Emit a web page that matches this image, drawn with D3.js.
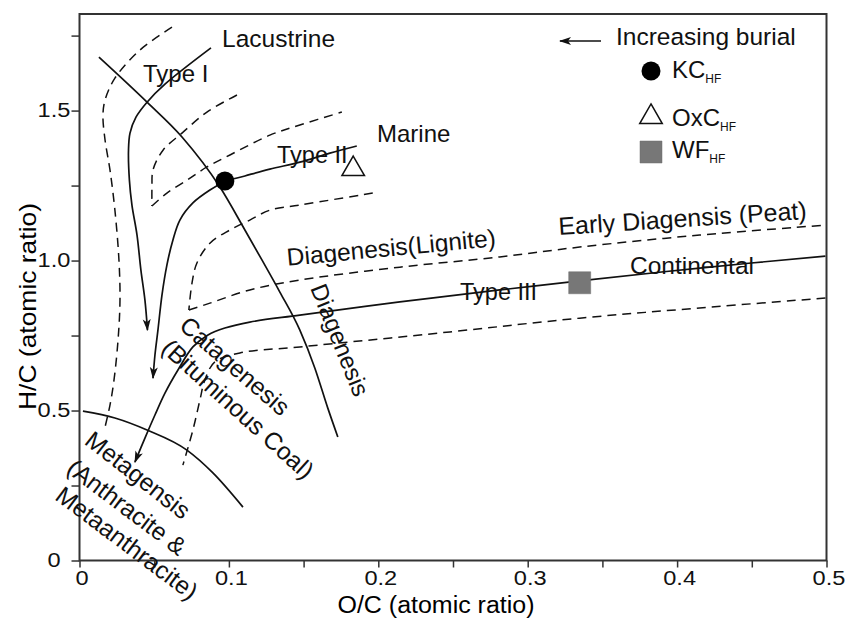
<!DOCTYPE html>
<html>
<head>
<meta charset="utf-8">
<script src="https://cdn.jsdelivr.net/npm/d3@7"></script>
<style>
  body { margin: 0; background: #fff; }
  svg { display: block; font-family: "Liberation Sans", Arial, sans-serif; }
</style>
</head>
<body>
<div id="chart"></div>
<script>
// Van Krevelen diagram: O/C vs H/C

// Evolution paths (O/C, H/C)
const typeI = [[0.0880,1.709],[0.0572,1.588],[0.0452,1.528],[0.0378,1.478],[0.0338,1.425],[0.0328,1.368],[0.0334,1.268],[0.0351,1.185],[0.0385,1.085],[0.0411,0.968],[0.0438,0.868],[0.0455,0.768]];
const typeII = [[0.1856,1.382],[0.1676,1.358],[0.1475,1.328],[0.1274,1.305],[0.1107,1.282],[0.0973,1.263],[0.0873,1.235],[0.0759,1.192],[0.0672,1.135],[0.0625,1.068],[0.0585,0.985],[0.0552,0.885],[0.0525,0.768],[0.0505,0.685],[0.0492,0.608]];
const typeIII = [[0.4993,1.015],[0.4151,0.975],[0.3348,0.932],[0.2813,0.902],[0.2144,0.862],[0.1475,0.818],[0.1140,0.795],[0.0973,0.775],[0.0860,0.752],[0.0759,0.712],[0.0659,0.635],[0.0572,0.558],[0.0505,0.485],[0.0438,0.408],[0.0371,0.328]];

// Solid boundaries
const diagenesisLine = [[0.0130,1.678],[0.0452,1.528],[0.0686,1.412],[0.0940,1.245],[0.1107,1.102],[0.1221,1.002],[0.1341,0.895],[0.1475,0.768],[0.1575,0.642],[0.1662,0.508],[0.1729,0.412]];
const metagenesisLine = [[0.0023,0.498],[0.0237,0.475],[0.0452,0.435],[0.0719,0.368],[0.0893,0.292],[0.1094,0.178]];

// Dashed envelopes
const dashA = [[0.0619,1.778],[0.0405,1.702],[0.0237,1.608],[0.0171,1.535],[0.0157,1.485],[0.0171,1.402],[0.0204,1.302],[0.0237,1.168],[0.0264,1.002],[0.0271,0.868],[0.0258,0.735],[0.0231,0.602],[0.0204,0.518],[0.0171,0.445]];
const dashB = [[0.1054,1.552],[0.0853,1.495],[0.0686,1.425],[0.0559,1.368],[0.0492,1.302],[0.0485,1.245],[0.0485,1.182]];
const dashC = [[0.0485,1.182],[0.0585,1.225],[0.0719,1.268],[0.0853,1.312],[0.1007,1.352],[0.1274,1.418],[0.1475,1.452],[0.1756,1.495]];
const dashD = [[0.1963,1.225],[0.1475,1.185],[0.1274,1.168],[0.1140,1.135],[0.1007,1.102],[0.0873,1.058],[0.0786,0.992],[0.0753,0.925],[0.0732,0.835]];
const dashE = [[0.0732,0.835],[0.0873,0.858],[0.1140,0.902],[0.1475,0.935],[0.2144,0.978],[0.2813,1.012],[0.3348,1.045],[0.4151,1.085],[0.4993,1.118]];
const dashF = [[0.4993,0.875],[0.4151,0.842],[0.3348,0.808],[0.2478,0.762],[0.1475,0.712],[0.1074,0.692],[0.0906,0.662],[0.0839,0.602],[0.0806,0.535],[0.0759,0.435],[0.0692,0.318]];

// Samples
const samples = [
  { name: "KC", oc: 0.0973, hc: 1.265, shape: "circle" },
  { name: "OxC", oc: 0.1832, hc: 1.305, shape: "triangle" },
  { name: "WF", oc: 0.3348, hc: 0.926, shape: "square" },
];

// Ticks
const xTicks = [0, 0.05, 0.1, 0.15, 0.2, 0.25, 0.3, 0.35, 0.4, 0.45, 0.5];
const yTicks = [0, 0.25, 0.5, 0.75, 1.0, 1.25, 1.5, 1.75];
const xLabels = { 0: "0", 0.1: "0.1", 0.2: "0.2", 0.3: "0.3", 0.4: "0.4", 0.5: "0.5" };
const yLabels = { 0: "0", 0.5: "0.5", 1: "1.0", 1.5: "1.5" };

const W = 853, H = 619;
const margin = { top: 14, right: 26.5, bottom: 58.5, left: 79.5 };

const x = d3.scaleLinear().domain([0, 0.5]).range([margin.left, W - margin.right]);
const y = d3.scaleLinear().domain([0, 1.822]).range([H - margin.bottom, margin.top]);

const svg = d3.select("#chart").append("svg").attr("width", W).attr("height", H);

// Arrow marker
const defs = svg.append("defs");
defs.append("marker")
  .attr("id", "arrow")
  .attr("viewBox", "0 -5 12 10")
  .attr("refX", 11)
  .attr("refY", 0)
  .attr("markerWidth", 12)
  .attr("markerHeight", 10)
  .attr("markerUnits", "userSpaceOnUse")
  .attr("orient", "auto")
  .append("path")
  .attr("d", "M0,-4 L12,0 L0,4 L3,0 Z")
  .attr("fill", "#111");

const line = d3.line()
  .x((d) => x(d[0]))
  .y((d) => y(d[1]))
  .curve(d3.curveCatmullRom.alpha(0.5));

// Dashed lines
[dashA, dashB, dashC, dashD, dashE, dashF].forEach((pts) => {
  svg.append("path")
    .datum(pts)
    .attr("fill", "none")
    .attr("stroke", "#111")
    .attr("stroke-width", 1.5)
    .attr("stroke-dasharray", "9,6")
    .attr("d", line);
});

// Solid boundaries
[diagenesisLine, metagenesisLine].forEach((pts) => {
  svg.append("path")
    .datum(pts)
    .attr("fill", "none")
    .attr("stroke", "#111")
    .attr("stroke-width", 1.7)
    .attr("d", line.curve(d3.curveMonotoneX));
});
line.curve(d3.curveCatmullRom.alpha(0.5));

// Evolution paths with arrows
[typeI, typeII, typeIII].forEach((pts) => {
  svg.append("path")
    .datum(pts)
    .attr("fill", "none")
    .attr("stroke", "#111")
    .attr("stroke-width", 1.7)
    .attr("marker-end", "url(#arrow)")
    .attr("d", line);
});

// Axes
const xAxis = svg.append("g")
  .attr("transform", `translate(0,${y(0)})`)
  .call(d3.axisBottom(x).tickValues(xTicks).tickSize(7).tickPadding(3)
    .tickFormat((d) => xLabels[d] || ""));

const yAxis = svg.append("g")
  .attr("transform", `translate(${x(0)},0)`)
  .call(d3.axisLeft(y).tickValues(yTicks).tickSize(8)
    .tickFormat((d) => yLabels[d] || ""));

[xAxis, yAxis].forEach((g) => {
  g.select(".domain").remove();
  g.selectAll("line").attr("stroke", "#333").attr("stroke-width", 1.5);
  g.selectAll("text")
    .attr("fill", "#111")
    .style("font-size", "20px")
    .style("font-family", "Liberation Sans, Arial, sans-serif");
});
yAxis.selectAll("text").attr("text-anchor", "middle").attr("x", -25.5);
xAxis.selectAll("text").attr("x", 2);

// stretch tick labels a little wider, like the original
svg.selectAll(".tick text").each(function () {
  const w = this.getComputedTextLength();
  if (w > 0) d3.select(this).attr("textLength", w * 1.18).attr("lengthAdjust", "spacingAndGlyphs");
});

// Frame
svg.append("rect")
  .attr("x", x(0))
  .attr("y", y(1.822))
  .attr("width", x(0.5) - x(0))
  .attr("height", y(0) - y(1.822))
  .attr("fill", "none")
  .attr("stroke", "#333")
  .attr("stroke-width", 2);

// Axis titles
svg.append("text")
  .attr("x", 436)
  .attr("y", 613)
  .attr("text-anchor", "middle")
  .attr("textLength", 197)
  .attr("lengthAdjust", "spacingAndGlyphs")
  .style("font-size", "23px")
  .text("O/C (atomic ratio)");

svg.append("text")
  .attr("transform", "translate(36,306.5) rotate(-90)")
  .attr("text-anchor", "middle")
  .attr("textLength", 207)
  .attr("lengthAdjust", "spacingAndGlyphs")
  .style("font-size", "24px")
  .text("H/C (atomic ratio)");

// Sample markers
const sym = {
  circle: d3.symbol().type(d3.symbolCircle).size(Math.PI * 9.5 * 9.5),
  triangle: d3.symbol().type(d3.symbolTriangle).size(220),
  square: d3.symbol().type(d3.symbolSquare).size(22 * 22),
};
function drawMarker(g, shape, cx, cy) {
  const p = g.append("path")
    .attr("transform", `translate(${cx},${cy})`)
    .attr("d", sym[shape]());
  if (shape === "circle") p.attr("fill", "#000");
  if (shape === "triangle") p.attr("fill", "#fff").attr("stroke", "#111").attr("stroke-width", 1.5);
  if (shape === "square") p.attr("fill", "#777").attr("stroke", "#6f6f6f").attr("stroke-width", 0.5);
}
samples.forEach((s) => drawMarker(svg, s.shape, x(s.oc), y(s.hc)));

// Annotations
function label(txt, px, py, size, angle = 0, anchor = "start", dy = "0") {
  svg.append("text")
    .attr("transform", `translate(${px},${py}) rotate(${angle})`)
    .attr("text-anchor", anchor)
    .attr("dy", dy)
    .attr("fill", "#111")
    .style("font-size", size + "px")
    .text(txt);
}
label("Lacustrine", 222, 47, 24.5);
label("Type I", 143, 82, 24);
label("Marine", 377, 142, 24);
label("Type II", 277, 163, 23.5);
label("Type III", 460, 300, 23.5);
label("Continental", 630, 274, 24.5);
label("Diagenesis(Lignite)", 392, 256, 24.5, -5.4, "middle");
label("Early Diagensis (Peat)", 683, 227, 25, -3.7, "middle");
label("Diagenesis", 340, 340, 24, 68, "middle", "0.35em");
label("Catagenesis", 235, 366, 24.5, 41, "middle", "0.35em");
label("(Bituminous Coal)", 238, 409, 24.5, 42, "middle", "0.35em");
label("Metagensis", 138, 475, 24.5, 38, "middle", "0.35em");
label("(Anthracite &", 127, 507, 24.5, 37, "middle", "0.35em");
label("Metaanthracite)", 127, 543, 24.5, 37, "middle", "0.35em");

// Legend
const legend = svg.append("g");
legend.append("line")
  .attr("x1", 601).attr("y1", 41).attr("x2", 560).attr("y2", 41)
  .attr("stroke", "#111").attr("stroke-width", 1.5)
  .attr("marker-end", "url(#arrow)");
legend.append("text")
  .attr("x", 616).attr("y", 45)
  .style("font-size", "24.5px").attr("fill", "#111")
  .text("Increasing burial");

const legendRows = [
  { shape: "circle", y: 71, name: "KC", base: 78 },
  { shape: "triangle", y: 117, name: "OxC", base: 126 },
  { shape: "square", y: 152, name: "WF", base: 158 },
];
legendRows.forEach((r) => {
  drawMarker(legend, r.shape, 651, r.y);
  const t = legend.append("text")
    .attr("x", 672).attr("y", r.base)
    .attr("fill", "#111")
    .style("font-size", "24px");
  t.append("tspan").text(r.name);
  t.append("tspan").attr("dy", 5).style("font-size", "12px").text("HF");
});
</script>
</body>
</html>
